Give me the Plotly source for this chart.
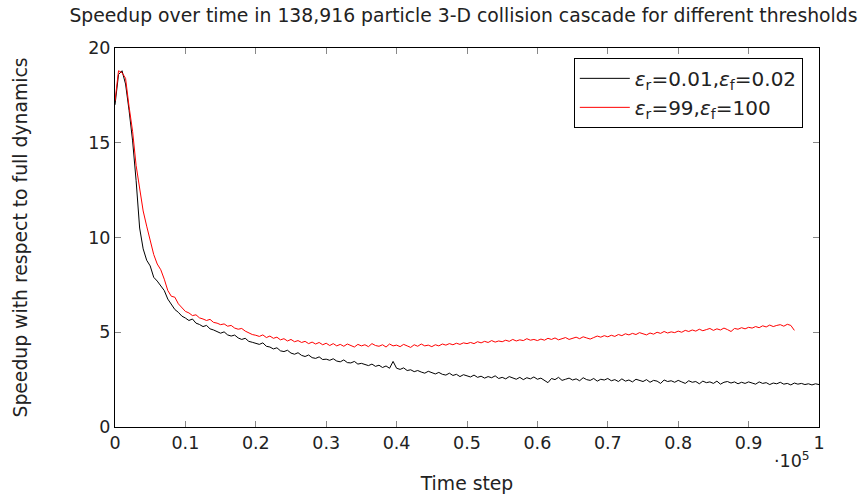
import plotly.graph_objects as go

# Time steps sampled every 500 steps
step = 500

# Speedup, thresholds eps_r=0.01, eps_f=0.02 (0 .. 100000 steps)
speedup_tight = [
    17.0, 18.6, 18.8, 18.1, 16.7, 15.1, 13.0, 10.5, 9.4, 8.8,
    8.5, 7.9, 7.7, 7.45, 7.2, 6.75, 6.45, 6.2, 6.05, 5.85,
    5.75, 5.62, 5.70, 5.48, 5.41, 5.30, 5.36, 5.18, 5.12, 5.05,
    4.95, 5.02, 4.86, 4.80, 4.85, 4.70, 4.62, 4.68, 4.52, 4.47,
    4.42, 4.36, 4.44, 4.26, 4.22, 4.12, 4.18, 4.02, 3.98, 4.05,
    3.90, 3.84, 3.92, 3.78, 3.72, 3.80, 3.66, 3.62, 3.70, 3.56,
    3.58, 3.52, 3.60, 3.48, 3.44, 3.54, 3.40, 3.38, 3.46, 3.32,
    3.36, 3.30, 3.24, 3.32, 3.20, 3.26, 3.14, 3.22, 3.10, 3.46,
    3.10, 3.04, 3.12, 2.98, 3.02, 2.92, 2.98, 2.90, 2.84, 2.94,
    2.86, 2.80, 2.88, 2.78, 2.74, 2.84, 2.72, 2.78, 2.66, 2.76,
    2.70, 2.64, 2.74, 2.62, 2.68, 2.58, 2.66, 2.60, 2.70, 2.56,
    2.62, 2.54, 2.66, 2.58, 2.52, 2.62, 2.50, 2.60, 2.54, 2.64,
    2.52, 2.58, 2.48, 2.34, 2.56, 2.50, 2.62, 2.46, 2.52, 2.58,
    2.48, 2.54, 2.44, 2.60, 2.50, 2.46, 2.56, 2.42, 2.52, 2.48,
    2.56, 2.44, 2.50, 2.40, 2.54, 2.42, 2.48, 2.38, 2.52, 2.44,
    2.40, 2.50, 2.36, 2.46, 2.42, 2.30, 2.48, 2.40, 2.44, 2.36,
    2.46, 2.38, 2.30, 2.44, 2.36, 2.40, 2.28, 2.42, 2.34, 2.38,
    2.30, 2.42, 2.26, 2.36, 2.40, 2.32, 2.38, 2.28, 2.36, 2.30,
    2.38, 2.32, 2.26, 2.38, 2.30, 2.34, 2.24, 2.32, 2.28, 2.36,
    2.26, 2.30, 2.22, 2.32, 2.26, 2.30, 2.24, 2.28, 2.22, 2.28,
    2.24,
]

# Speedup, thresholds eps_r=99, eps_f=100 (0 .. 96500 steps)
speedup_loose = [
    17.2, 18.8, 18.7, 18.4, 16.9, 15.6, 13.8, 12.6, 11.4, 10.6,
    9.8, 9.1, 8.6, 8.3, 7.8, 7.2, 6.9, 6.85, 6.5, 6.3,
    6.1, 6.02, 5.88, 5.92, 5.76, 5.70, 5.62, 5.68, 5.52, 5.48,
    5.40, 5.44, 5.32, 5.36, 5.22, 5.16, 5.20, 5.06, 4.96, 4.88,
    4.84, 4.78, 4.86, 4.72, 4.80, 4.68, 4.74, 4.60, 4.66, 4.54,
    4.62, 4.50, 4.56, 4.46, 4.52, 4.40, 4.48, 4.38, 4.46, 4.34,
    4.42, 4.30, 4.40, 4.28, 4.36, 4.26, 4.38, 4.30, 4.22, 4.36,
    4.28, 4.34, 4.24, 4.40, 4.30, 4.26, 4.34, 4.22, 4.38, 4.28,
    4.32, 4.24, 4.36, 4.28, 4.20, 4.34, 4.26, 4.38, 4.28, 4.32,
    4.24, 4.34, 4.28, 4.38, 4.32, 4.40, 4.34, 4.42, 4.36, 4.44,
    4.40, 4.46, 4.40, 4.50, 4.44, 4.52, 4.46, 4.56, 4.48, 4.54,
    4.50, 4.58, 4.52, 4.62, 4.54, 4.60, 4.56, 4.66, 4.58, 4.62,
    4.56, 4.64, 4.58, 4.68, 4.62, 4.70, 4.60, 4.66, 4.72, 4.62,
    4.68, 4.74, 4.66, 4.76, 4.70, 4.64, 4.72, 4.80, 4.74, 4.82,
    4.76, 4.84, 4.78, 4.88, 4.82, 4.92, 4.86, 4.94, 4.88, 4.98,
    4.92, 4.86, 4.96, 4.90, 5.00, 4.94, 5.04, 4.96, 5.02, 4.98,
    5.06, 5.00, 5.10, 5.04, 5.12, 5.06, 5.16, 5.08, 5.14, 5.20,
    5.10, 5.18, 5.12, 5.22, 5.14, 5.04, 5.20, 5.16, 5.24, 5.18,
    5.26, 5.22, 5.30, 5.24, 5.34, 5.28, 5.38, 5.30, 5.36, 5.40,
    5.32, 5.42, 5.36, 5.10,
]

x_tick_vals = [0, 10000, 20000, 30000, 40000, 50000, 60000, 70000, 80000, 90000, 100000]
x_tick_text = ["0", "0.1", "0.2", "0.3", "0.4", "0.5", "0.6", "0.7", "0.8", "0.9", "1"]
y_tick_vals = [0, 5, 10, 15, 20]

steps_tight = [i * step for i in range(len(speedup_tight))]
steps_loose = [i * step for i in range(len(speedup_loose))]

FONT = "DejaVu Sans"
TICK_SIZE = 17.5
TITLE_SIZE = 18.8

fig = go.Figure()
fig.add_trace(go.Scatter(
    x=steps_tight, y=speedup_tight, mode="lines",
    line=dict(color="black", width=1),
    name="<i>ε</i><sub>r</sub>=0.01,<i>ε</i><sub>f</sub>=0.02",
))
fig.add_trace(go.Scatter(
    x=steps_loose, y=speedup_loose, mode="lines",
    line=dict(color="red", width=1),
    name="<i>ε</i><sub>r</sub>=99,<i>ε</i><sub>f</sub>=100",
))

axis_common = dict(
    showline=True, linecolor="black", linewidth=1, mirror="allticks",
    ticks="inside", ticklen=6, tickcolor="#888888", tickwidth=1,
    showgrid=False, zeroline=False, automargin=False,
    tickfont=dict(family=FONT, size=TICK_SIZE, color="#222222"),
)

fig.update_layout(
    width=867, height=497,
    margin=dict(l=115, r=48, t=48, b=70),
    paper_bgcolor="white", plot_bgcolor="white",
    font=dict(family=FONT, size=TICK_SIZE, color="#222222"),
    title=dict(
        text="Speedup over time in 138,916 particle 3-D collision cascade for different thresholds",
        xref="paper", x=0.495, xanchor="center", y=0.968, yanchor="middle",
        font=dict(family=FONT, size=TITLE_SIZE),
    ),
    xaxis=dict(
        range=[0, 100000], tickvals=x_tick_vals, ticktext=x_tick_text,
        title=dict(text="Time step", font=dict(family=FONT, size=TITLE_SIZE), standoff=24),
        **axis_common,
    ),
    yaxis=dict(
        range=[0, 20], tickvals=y_tick_vals,
        title=dict(text="Speedup with respect to full dynamics",
                   font=dict(family=FONT, size=TITLE_SIZE), standoff=55),
        **axis_common,
    ),
    legend=dict(
        x=0.977, y=0.974, xanchor="right", yanchor="top",
        bgcolor="white", bordercolor="black", borderwidth=1,
        font=dict(family=FONT, size=20),
        tracegroupgap=0, itemwidth=50,
    ),
    showlegend=True,
)

fig.add_annotation(
    x=0.99, y=-0.052, xref="paper", yref="paper", xanchor="right", yanchor="top",
    text="·10<sup>5</sup>", showarrow=False, font=dict(family=FONT, size=TICK_SIZE),
)

fig.write_html("out.html")
